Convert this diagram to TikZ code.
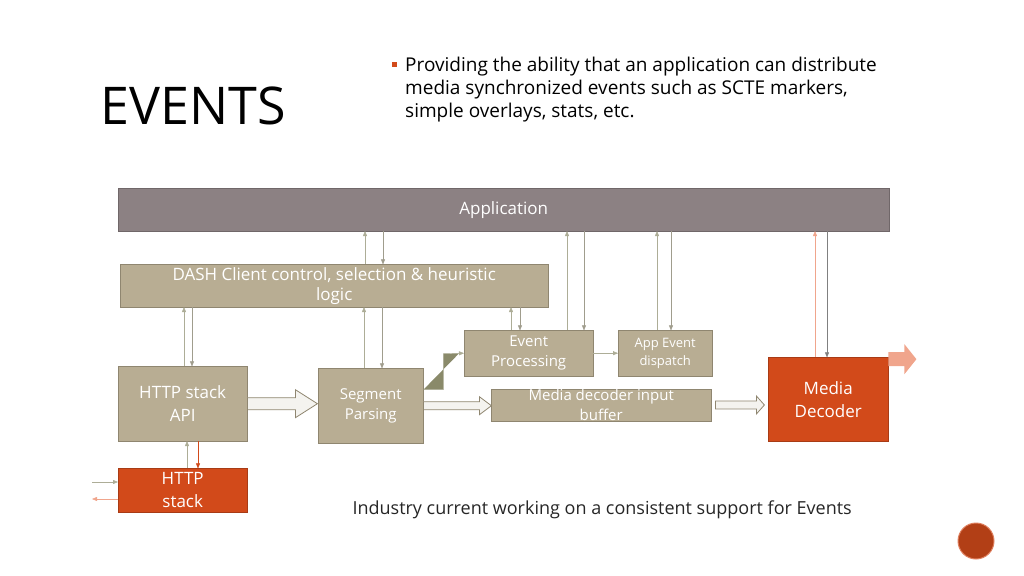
\documentclass[tikz,border=0pt]{standalone}
\usepackage{fontspec}
\setmainfont{Open Sans}
\usetikzlibrary{arrows.meta,shapes.arrows}
\definecolor{appgray}{HTML}{8C8183}
\definecolor{tan}{HTML}{B8AD93}
\definecolor{tanedge}{HTML}{8F8670}
\definecolor{rust}{HTML}{D24A1A}
\definecolor{olive}{HTML}{8A8A6A}
\definecolor{pale}{HTML}{C8C4B0}
\definecolor{salmon}{HTML}{F0A58C}
\begin{document}
\begin{tikzpicture}[x=1pt,y=-1pt,
    box/.style={draw=tanedge,fill=tan,text=white,align=center,inner sep=0pt,anchor=north west},
    hot/.style={box,draw=rust!80!black,fill=rust},
    up/.style={draw=olive!70,-{Triangle[length=5pt,width=4pt]},fill=olive},
    down/.style={draw=pale!80!black,-{Triangle[length=5pt,width=4pt]},fill=olive},
    fat/.style={draw=tanedge,fill=white!85!tan,line width=.8pt}]
  \useasboundingbox (0,0) rectangle (1024,575);

  % Title and bullet
  \node[anchor=west,font=\fontsize{52}{52}\selectfont] (title) at (97,106) {EVENTS};
  \fill[rust] (392,62) rectangle (397,67);
  \node[anchor=north west,align=left,inner sep=0pt,font=\fontsize{19}{23}\selectfont] (bullet) at (405,57)
    {Providing the ability that an application can distribute\\media synchronized events such as SCTE markers,\\simple overlays, stats, etc.};

  % Boxes
  \node[box,draw=appgray!80!black,fill=appgray,minimum width=771pt,minimum height=43pt,font=\fontsize{17}{20}\selectfont] (app) at (118,188) {Application};
  \node[box,minimum width=428pt,minimum height=43pt,font=\fontsize{17}{22}\selectfont] (dash) at (120,264) {DASH Client control, selection \& heuristic\\[-2pt]logic};
  \node[box,minimum width=129pt,minimum height=75pt,font=\fontsize{17}{23}\selectfont] (api) at (118,366) {HTTP stack\\API};
  \node[box,minimum width=105pt,minimum height=75pt,font=\fontsize{15}{20}\selectfont] (seg) at (318,368) {Segment\\Parsing};
  \node[box,minimum width=129pt,minimum height=46pt,font=\fontsize{15}{20}\selectfont] (evt) at (464,330) {Event\\Processing};
  \node[box,minimum width=94pt,minimum height=46pt,font=\fontsize{13}{18}\selectfont] (disp) at (618,330) {App Event\\dispatch};
  \node[box,minimum width=220pt,minimum height=31pt,font=\fontsize{15}{20}\selectfont] (buf) at (491,389) {Media decoder input\\buffer};
  \node[hot,minimum width=120pt,minimum height=84pt,font=\fontsize{17}{23}\selectfont] (dec) at (768,357) {Media\\Decoder};
  \node[hot,minimum width=129pt,minimum height=44pt,font=\fontsize{17}{23}\selectfont] (http) at (118,468) {HTTP\\stack};

  % Thin connectors
  \draw[up] (dash.north west) ++(245,0) -- ++(0,-33);
  \draw[down] (app.south west) ++(265,0) -- ++(0,33);
  \draw[up] (api.north west) ++(66,0) -- ++(0,-59);
  \draw[down] (dash.south west) ++(72,0) -- ++(0,59);
  \draw[up] (seg.north west) ++(46,0) -- ++(0,-61);
  \draw[down] (dash.south west) ++(262,0) -- ++(0,61);
  \draw[up] (evt.north west) ++(47,0) -- ++(0,-23);
  \draw[down] (dash.south west) ++(400,0) -- ++(0,23);
  \draw[up] (evt.north west) ++(103,0) -- ++(0,-99);
  \draw[down] (app.south west) ++(466,0) -- ++(0,99);
  \draw[up] (disp.north west) ++(39,0) -- ++(0,-99);
  \draw[down] (app.south west) ++(553,0) -- ++(0,99);
  \draw[up,draw=salmon,fill=salmon] (dec.north west) ++(47,0) -- ++(0,-126);
  \draw[down,draw=gray,fill=gray] (app.south west) ++(709,0) -- ++(0,126);
  \draw[up] (seg.east) ++(0,-16) -| ++(20,-36) -- (evt.west);
  \draw[up] (evt.east) -- (disp.west);
  \draw[up] (http.north west) ++(69,0) -- ++(0,-27);
  \draw[down,draw=rust,fill=rust] (api.south west) ++(80,0) -- ++(0,27);
  \coordinate (hin) at (92,482);
  \coordinate (hout) at (92,499);
  \draw[up] (hin) -- (hin -| http.west);
  \draw[down,draw=salmon,fill=rust] (hout -| http.west) -- (hout);

  % Block arrows
  \draw[fat] (api.east) ++(0,-6) -- ++(48,0) -- ++(0,-8) -- ++(22,14) -- ++(-22,14) -- ++(0,-8) -- ++(-48,0) -- cycle;
  \draw[fat] (seg.east) ++(0,-4) -- ++(56,0) -- ++(0,-5) -- ++(12,9) -- ++(-12,9) -- ++(0,-5) -- ++(-56,0) -- cycle;
  \draw[fat] (buf.east) ++(4,-4) -- ++(41,0) -- ++(0,-5) -- ++(8,9) -- ++(-8,9) -- ++(0,-5) -- ++(-41,0) -- cycle;
  \fill[salmon] (dec.east) ++(0,-47) -- ++(16,0) -- ++(0,-8) -- ++(12,15) -- ++(-12,15) -- ++(0,-8) -- ++(-16,0) -- cycle;

  % Footer
  \node[anchor=west,font=\fontsize{18}{20}\selectfont,text=black!85] (note) at (349,510) {Industry current working on a consistent support for Events};
  \draw[rust!70,fill=rust!85!black,line width=1pt] (976,541) circle (18);
\end{tikzpicture}
\end{document}
